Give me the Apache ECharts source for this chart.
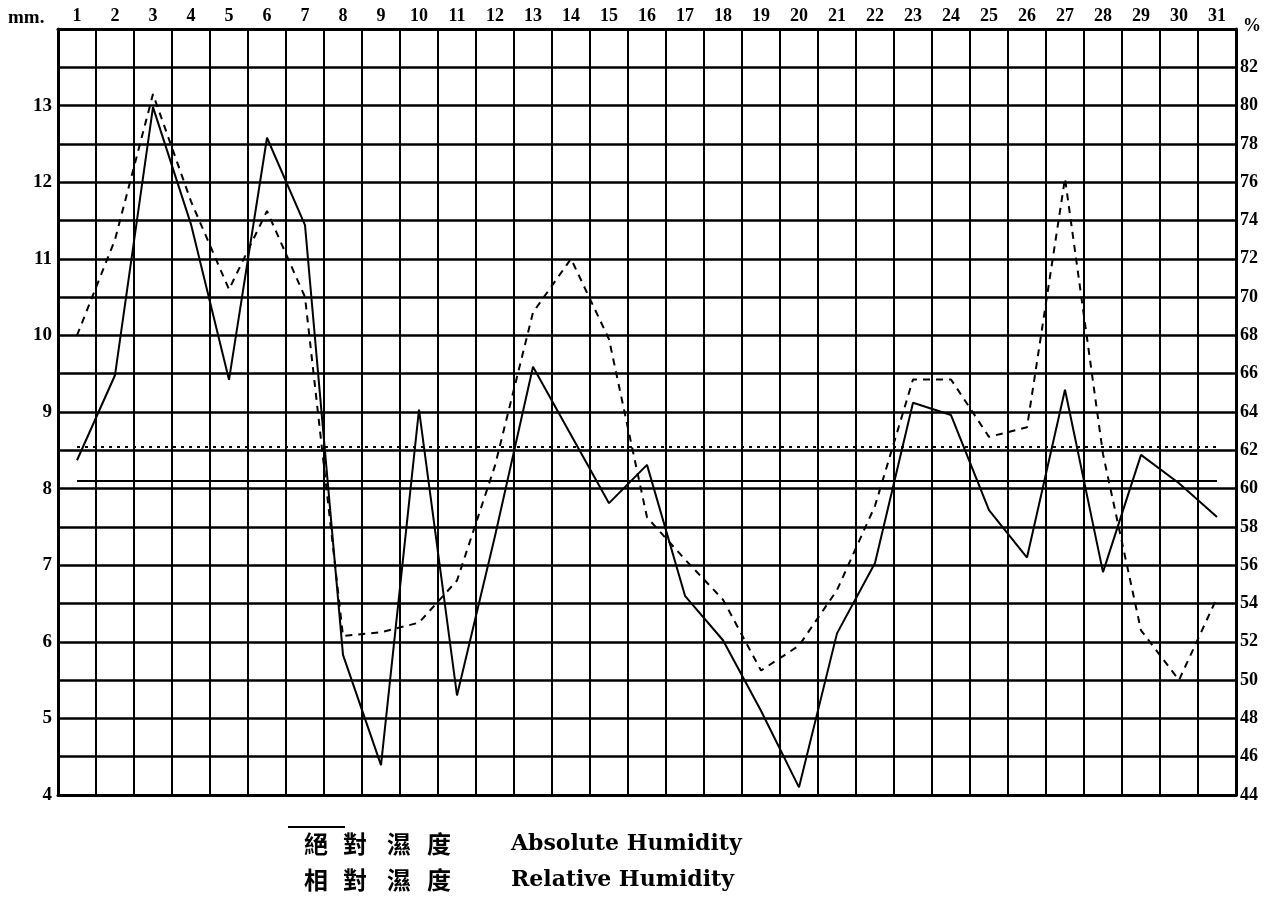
<!DOCTYPE html>
<html>
<head>
<meta charset="utf-8">
<script src="https://cdn.jsdelivr.net/npm/echarts@6/dist/echarts.min.js"></script>
<style>
html,body{margin:0;padding:0;background:#fff;}
#chart{width:1276px;height:902px;}
</style>
</head>
<body>
<div id="chart"></div>
<script>
const days = ['1','2','3','4','5','6','7','8','9','10','11','12','13','14','15','16','17','18','19','20','21','22','23','24','25','26','27','28','29','30','31'];
const absHum = [8.37, 9.48, 12.98, 11.45, 9.42, 12.58, 11.44, 5.83, 4.39, 9.03, 5.3, 7.38, 9.59, 8.7, 7.81, 8.31, 6.6, 6.02, 5.1, 4.1, 6.11, 7.03, 9.12, 8.96, 7.72, 7.1, 9.29, 6.91, 8.44, 8.07, 7.63];
const relHum = [68, 73, 80.6, 75, 70.4, 74.5, 70, 52.3, 52.5, 53, 55.2, 61.2, 69.2, 72, 67.8, 58.5, 56.3, 54.2, 50.5, 51.8, 54.7, 59.1, 65.7, 65.7, 62.7, 63.2, 76.2, 61.8, 52.6, 50, 54.3];
const meanAbs = 8.1;
const meanRel = 62.2;
const leftTicks = [4,5,6,7,8,9,10,11,12,13];
const rightTicks = [44,46,48,50,52,54,56,58,60,62,64,66,68,70,72,74,76,78,80,82];
const labelsZh = ['絕對濕度', '相對濕度'];
const labelsEn = ['Absolute Humidity', 'Relative Humidity'];

const serif = '"Liberation Serif", "DejaVu Serif", serif';
const wideSerif = '"DejaVu Serif", serif';
const cjk = '"Noto Sans CJK TC", "Noto Sans CJK SC", sans-serif';

const legendGraphics = [
  {type: 'line', shape: {x1: 288, y1: 827, x2: 345, y2: 827}, style: {stroke: '#000', lineWidth: 2}}
];
const rowTops = [832, 868];
const charLefts = [304, 343, 387, 427];
labelsZh.forEach((txt, r) => {
  Array.from(txt).forEach((ch, i) => {
    legendGraphics.push({type: 'text', left: charLefts[i], top: rowTops[r],
      style: {text: ch, font: 'bold 24px ' + cjk, fill: '#000'}});
  });
  legendGraphics.push({type: 'text', left: 511, top: rowTops[r] + 1,
    style: {text: labelsEn[r], font: 'bold 22px ' + wideSerif, fill: '#000'}});
});

const chart = echarts.init(document.getElementById('chart'));
chart.setOption({
  backgroundColor: '#fff',
  animation: false,
  grid: {left: 58, right: 40, top: 29, bottom: 107},
  xAxis: [{
    type: 'category', data: days, position: 'top', boundaryGap: true,
    axisLine: {show: true, lineStyle: {color: '#000', width: 3}},
    axisTick: {show: false},
    axisLabel: {color: '#000', fontFamily: serif, fontWeight: 'bold', fontSize: 18, margin: 4, interval: 0},
    splitLine: {show: true, interval: 0, lineStyle: {color: '#000', width: 2}}
  }, {
    type: 'category', data: days, position: 'bottom', boundaryGap: true,
    axisLine: {show: true, onZero: false, lineStyle: {color: '#000', width: 3}},
    axisTick: {show: false}, axisLabel: {show: false}, splitLine: {show: false}
  }],
  yAxis: [{
    type: 'value', min: 4, max: 14, interval: 0.5, position: 'left',
    axisLine: {show: true, lineStyle: {color: '#000', width: 3}},
    axisTick: {show: false},
    axisLabel: {color: '#000', fontFamily: serif, fontWeight: 'bold', fontSize: 19, margin: 6,
      formatter: v => leftTicks.indexOf(v) >= 0 ? String(v) : ''},
    splitLine: {show: true, lineStyle: {color: '#000', width: 2.5}}
  }, {
    type: 'value', min: 44, max: 84, interval: 2, position: 'right',
    axisLine: {show: true, lineStyle: {color: '#000', width: 3}},
    axisTick: {show: false},
    axisLabel: {color: '#000', fontFamily: serif, fontWeight: 'bold', fontSize: 18, margin: 4,
      formatter: v => rightTicks.indexOf(v) >= 0 ? String(v) : ''},
    splitLine: {show: false}
  }],
  series: [{
    name: 'Absolute Humidity', type: 'line', data: absHum, xAxisIndex: 0, yAxisIndex: 0,
    symbol: 'none', lineStyle: {color: '#000', width: 2},
    markLine: {symbol: 'none', silent: true, label: {show: false},
      lineStyle: {color: '#000', width: 2, type: 'solid'},
      data: [[{coord: [days[0], meanAbs]}, {coord: [days[days.length - 1], meanAbs]}]]}
  }, {
    name: 'Relative Humidity', type: 'line', data: relHum, xAxisIndex: 0, yAxisIndex: 1,
    symbol: 'none', lineStyle: {color: '#000', width: 2, type: [7, 6]},
    markLine: {symbol: 'none', silent: true, label: {show: false},
      lineStyle: {color: '#000', width: 2, type: [3, 5]},
      data: [[{coord: [days[0], meanRel]}, {coord: [days[days.length - 1], meanRel]}]]}
  }],
  graphic: [
    {type: 'text', left: 8, top: 9, style: {text: 'mm.', font: 'bold 19px ' + serif, fill: '#000'}},
    {type: 'text', left: 1243, top: 17, style: {text: '%', font: 'bold 18px ' + serif, fill: '#000'}}
  ].concat(legendGraphics)
});
</script>
</body>
</html>
